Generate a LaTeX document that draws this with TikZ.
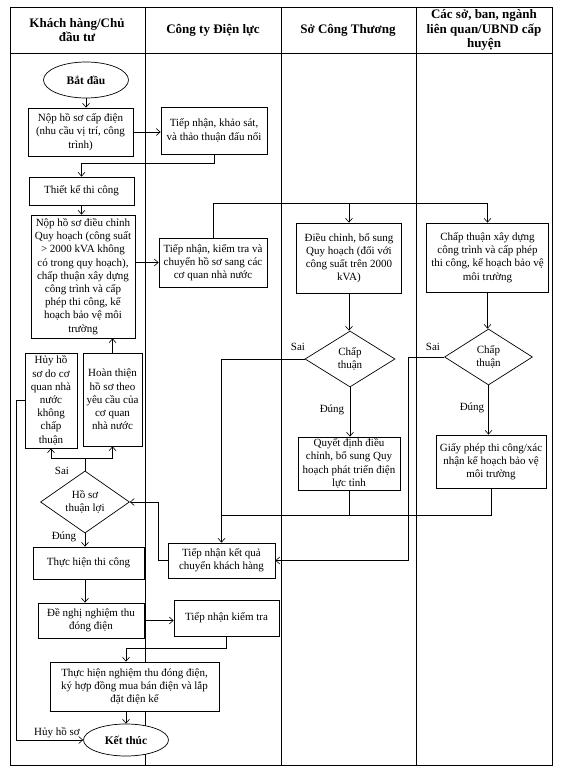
\documentclass[tikz,border=0pt]{standalone}
\usepackage{fontspec}
\setmainfont{Liberation Serif}
\usepackage{tikz}
\usetikzlibrary{shapes,arrows.meta}
\tikzstyle{procbox}=[draw,fill=white,align=center,inner sep=1pt,line width=0.7pt,font=\fontsize{11}{13.2}\selectfont]
\tikzstyle{choice}=[diamond,draw,fill=white,align=center,inner sep=0pt,line width=0.7pt,font=\fontsize{11}{13.2}\selectfont]
\tikzstyle{termnode}=[ellipse,draw,fill=white,inner sep=0pt,line width=0.7pt,font=\fontsize{11.5}{13}\selectfont\bfseries]
\tikzstyle{lanehead}=[align=center,font=\fontsize{13}{14.5}\selectfont\bfseries]
\tikzstyle{tag}=[inner sep=1pt,font=\fontsize{11}{12}\selectfont]
\tikzstyle{flow}=[->,>={Straight Barb[length=4pt,width=7pt]},line width=0.6pt]
\tikzstyle{wire}=[line width=0.6pt]
\newcommand{\chartunit}{1pt}

\begin{document}
\begin{tikzpicture}[x=\chartunit,y=-\chartunit]
    \useasboundingbox (0,0) rectangle (565,773);
    \draw[line width=0.9pt] (10,7) rectangle (552,765);
    \draw[line width=0.9pt] (10,53) -- (552,53);
    \foreach \lx in {145,281,416}
        \draw[line width=0.9pt] (\lx,7) -- (\lx,765);
    \node[lanehead] (h1) at (77,30)  {Khách hàng/Chủ\\đầu tư};
    \node[lanehead] (h2) at (213,30) {Công ty Điện lực};
    \node[lanehead] (h3) at (348,30) {Sở Công Thương};
    \node[lanehead] (h4) at (484,30) {Các sở, ban, ngành\\liên quan/UBND cấp\\huyện};
%    Khach hang
    \node[termnode,minimum width=85pt,minimum height=36pt] (k1) at (86,80) {Bắt đầu};
    \node[procbox,minimum width=105pt,minimum height=48pt] (k2) at (80.5,132) {Nộp hồ sơ cấp điện\\(nhu cầu vị trí, công\\trình)};
    \node[procbox,minimum width=105pt,minimum height=28pt] (k3) at (81.5,191) {Thiết kế thi công};
    \node[procbox,minimum width=104pt,minimum height=123pt] (k4) at (83,276.5) {Nộp hồ sơ điều chỉnh\\Quy hoạch (công suất\\> 2000 kVA không\\có trong quy hoạch),\\chấp thuận xây dựng\\công trình và cấp\\phép thi công, kế\\hoạch bảo vệ môi\\trường};
    \node[procbox,minimum width=52pt,minimum height=95pt] (k5) at (51,400.5) {Hủy hồ\\sơ do cơ\\quan nhà\\nước\\không\\chấp\\thuận};
    \node[procbox,minimum width=59pt,minimum height=93pt] (k6) at (112.5,399.5) {Hoàn thiện\\hồ sơ theo\\yêu cầu của\\cơ quan\\nhà nước};
    \node[choice,minimum width=89pt,minimum height=51pt] (k7) at (85,502) {Hồ sơ\\thuận lợi};
    \node[procbox,minimum width=111pt,minimum height=32pt] (k8) at (88.5,563) {Thực hiện thi công};
    \node[procbox,minimum width=106pt,minimum height=35pt] (k9) at (91,620.5) {Đề nghị nghiệm thu\\đóng điện};
    \node[procbox,minimum width=169pt,minimum height=49pt] (k10) at (134.5,686.5) {Thực hiện nghiệm thu đóng điện,\\ký hợp đồng mua bán điện và lắp\\đặt điện kế};
    \node[termnode,minimum width=85pt,minimum height=32pt] (k11) at (126,740) {Kết thúc};
%    Dien luc
    \node[procbox,minimum width=106pt,minimum height=47pt] (d1) at (214,130.5) {Tiếp nhận, khảo sát,\\và thảo thuận đấu nối};
    \node[procbox,minimum width=108pt,minimum height=49pt] (d2) at (213,262.5) {Tiếp nhận, kiểm tra và\\chuyển hồ sơ sang các\\cơ quan nhà nước};
    \node[procbox,minimum width=107pt,minimum height=35pt] (d3) at (221.5,560.5) {Tiếp nhận kết quả\\chuyển khách hàng};
    \node[procbox,minimum width=105pt,minimum height=36pt] (d4) at (226.5,618) {Tiếp nhận kiểm tra};
%    So Cong Thuong
    \node[procbox,minimum width=105pt,minimum height=70pt] (s1) at (349,258) {Điều chỉnh, bổ sung\\Quy hoạch (đối với\\công suất trên 2000\\kVA)};
    \node[choice,minimum width=90pt,minimum height=56pt] (s2) at (350,359) {Chấp\\thuận};
    \node[procbox,minimum width=102pt,minimum height=53pt] (s3) at (349,463.5) {Quyết định điều\\chỉnh, bổ sung Quy\\hoạch phát triển điện\\lực tỉnh};
%    Cac so, ban, nganh
    \node[procbox,minimum width=122pt,minimum height=69pt] (c1) at (487.5,257.5) {Chấp thuận xây dựng\\công trình và cấp phép\\thi công, kế hoạch bảo vệ\\môi trường};
    \node[choice,minimum width=88pt,minimum height=56pt] (c2) at (488.5,357) {Chấp\\thuận};
    \node[procbox,minimum width=110pt,minimum height=53pt] (c3) at (491,461.5) {Giấy phép thi công/xác\\nhận kế hoạch bảo vệ\\môi trường};
    \coordinate (j1) at (213,203);
    \coordinate (j2) at (408,560.5);
    \coordinate (j3) at (221.5,515);
    \coordinate (j4) at (85,458);
    \draw[flow] (k1.south) -- (k1.south |- k2.north);
    \draw[flow] (k2.east) -- (k2.east -| d1.west);
    \draw[flow] (d1.south) -- ++(0,9) -| (k3.north);
    \draw[flow] (k3.south) -- (k3.south |- k4.north);
    \draw[flow] (k4.east |- d2) -- (d2.west);
    \draw[wire] (d2.north) -- (j1);
    \draw[flow] (j1) -| (c1.north);
    \draw[flow] (j1 -| s1.north) -- (s1.north);
    \draw[flow] (s1.south) -- (s1.south |- s2.north);
    \draw[flow] (c1.south) -- (c1.south |- c2.north);
    \draw[flow] (s2.west) -| (d3.north);
    \draw[flow] (s2.south) -- (s2.south |- s3.north);
    \draw[flow] (c2.south) -- (c2.south |- c3.north);
    \draw[flow] (c2.west) -| (j2) -- (d3.east);
    \draw[wire] (s3.south) |- (j3);
    \draw[wire] (c3.south) |- (j3);
    \draw[flow] (d3.west) -- ++(-9,0) |- (k7.east);
    \draw[wire] (k7.north) -- (j4);
    \draw[flow] (j4) -| (k5.south);
    \draw[flow] (j4) -| (k6.south);
    \draw[flow] (k6.north) -- (k6.north |- k4.south);
    \draw[flow] (k5.west) -- ++(-8,0) |- (k11.west);
    \draw[flow] (k7.south) -- (k7.south |- k8.north);
    \draw[flow] (k7.south |- k8.south) -- (k7.south |- k9.north);
    \draw[flow] (k9.east) -- (k9.east -| d4.west);
    \draw[flow] (d4.south) -- ++(0,12) -| (k11.north |- k10.north);
    \draw[flow] (k11.north |- k10.south) -- (k11.north);
    \node[tag] (t1) at (298,347) {Sai};
    \node[tag] (t2) at (332,410) {Đúng};
    \node[tag] (t3) at (433,347) {Sai};
    \node[tag] (t4) at (472,408) {Đúng};
    \node[tag] (t5) at (62,471)  {Sai};
    \node[tag] (t6) at (64,537)  {Đúng};
    \node[tag] (t7) at (57,733)  {Hủy hồ sơ};
\end{tikzpicture}
\end{document}
